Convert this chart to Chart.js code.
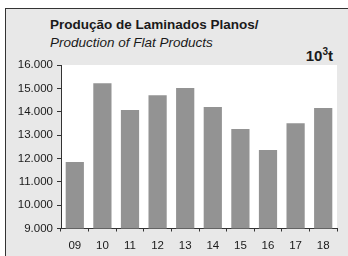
<!DOCTYPE html>
<html>
<head>
<meta charset="utf-8">
<script src="https://cdn.jsdelivr.net/npm/chart.js@4"></script>
<style>
  html, body { margin: 0; padding: 0; background: #fff; }
  body { width: 348px; height: 256px; position: relative; overflow: hidden; font-family: "Liberation Sans", Arial, sans-serif; }
  #frame { position: absolute; left: 5px; top: 8px; width: 345px; height: 260px; background: #e8e8e8; border-top: 1.5px solid #333; border-left: 1.5px solid #333; }
  .t { position: absolute; color: #1a1a1a; white-space: nowrap; line-height: 15px; }
  #t1 { left: 50px; top: 17px; font-size: 13.5px; font-weight: bold; }
  #t2 { left: 50px; top: 35px; font-size: 13.5px; font-style: italic; }
  #unit { right: 15px; top: 47px; font-size: 15px; font-weight: bold; line-height: 17px; }
  #unit sup { font-size: 10px; vertical-align: 6px; line-height: 0; }
  #c { position: absolute; left: 0; top: 0; }
</style>
</head>
<body>
<div id="frame"></div>
<div class="t" id="t1">Produção de Laminados Planos/</div>
<div class="t" id="t2">Production of Flat Products</div>
<div class="t" id="unit">10<sup>3</sup>t</div>
<canvas id="c" width="348" height="256"></canvas>
<script>
"use strict";

var years = ['09', '10', '11', '12', '13', '14', '15', '16', '17', '18'];
var production = [11850, 15220, 14070, 14710, 15010, 14200, 13260, 12360, 13510, 14160];
var yTicks = [9000, 10000, 11000, 12000, 13000, 14000, 15000, 16000];

// white plot area like the original
var plotBackground = {
    id: 'plotBackground',
    beforeDraw: function (chart) {
        var a = chart.chartArea;
        var ctx = chart.ctx;
        ctx.save();
        ctx.fillStyle = '#ffffff';
        ctx.fillRect(a.left, a.top, a.right - a.left, a.bottom - a.top);
        ctx.restore();
    }
};

Chart.defaults.font.family = '"Liberation Sans", Arial, sans-serif';
Chart.defaults.color = '#1a1a1a';

var ctx = document.getElementById('c').getContext('2d');
var chart = new Chart(ctx, {
    type: 'bar',
    data: {
        labels: years,
        datasets: [{
            data: production,
            backgroundColor: '#939393',
            borderWidth: 0,
            categoryPercentage: 1,
            barPercentage: 0.66
        }]
    },
    options: {
        responsive: false,
        animation: false,
        layout: { padding: { left: 0, top: 65, right: 11, bottom: 0 } },
        plugins: { legend: { display: false }, tooltip: { enabled: false } },
        scales: {
            x: {
                grid: { drawOnChartArea: false, drawTicks: true, tickLength: 3, color: '#333', offset: true },
                border: { color: '#333', width: 1 },
                ticks: { font: { size: 11.5 }, padding: 7.5, color: '#1a1a1a', maxRotation: 0 },
                afterFit: function (scale) { scale.height = 27.5; }
            },
            y: {
                min: 9000,
                max: 16000,
                afterBuildTicks: function (scale) {
                    scale.ticks = yTicks.map(function (v) { return { value: v }; });
                },
                grid: { drawOnChartArea: false, drawTicks: true, tickLength: 4, color: '#333' },
                border: { color: '#333', width: 1 },
                ticks: {
                    font: { size: 11.5 },
                    padding: 4,
                    color: '#1a1a1a',
                    callback: function (v) { return (v / 1000).toFixed(3); }
                },
                afterFit: function (scale) { scale.width = 61; }
            }
        }
    },
    plugins: [plotBackground]
});
</script>
</body>
</html>
